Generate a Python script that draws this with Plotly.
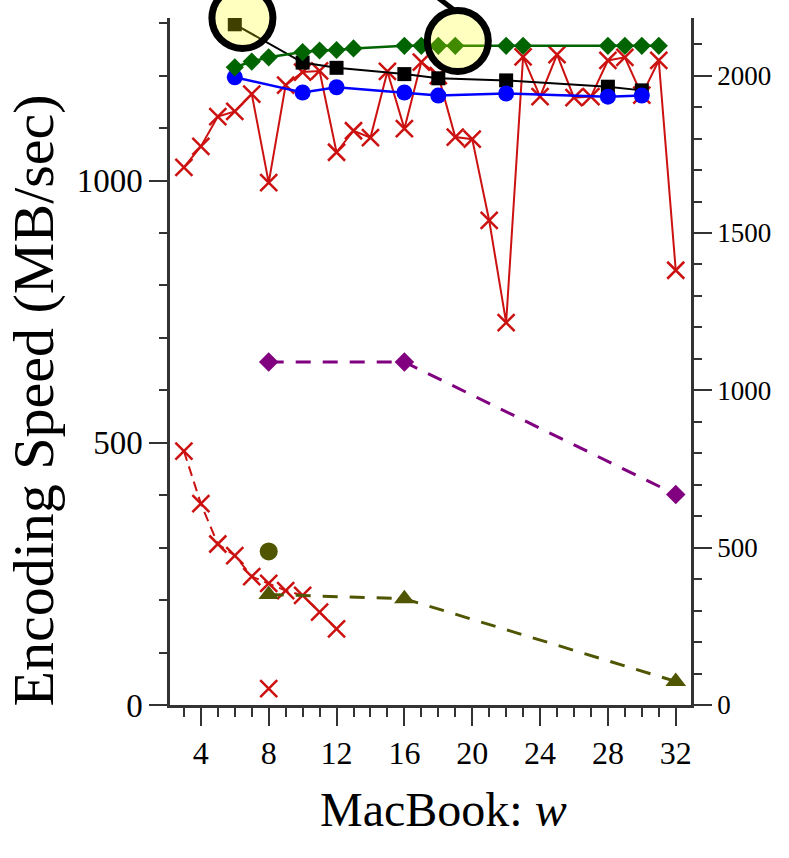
import plotly.graph_objects as go

# ---------------- data ----------------
# top red X series (left axis)
red_top_w = list(range(3, 33))
red_top_v = [1025, 1065, 1122, 1132, 1165, 996, 1182, 1207, 1209, 1054,
             1095, 1082, 1208, 1099, 1226, 1200, 1083, 1079, 924, 729,
             1236, 1160, 1240, 1158, 1160, 1229, 1235, 1163, 1229, 829]

# lower red X series (left axis)
red_low_w = [3, 4, 5, 6, 7, 8, 9, 10, 11, 12]
red_low_v = [484, 384, 307, 285, 245, 232, 218, 209, 177, 145]

# isolated red X
red_pt_w = [8]
red_pt_v = [31]

# black squares (left axis)
black_w = [6, 10, 12, 16, 18, 22, 28, 30]
black_v = [1298, 1225, 1215, 1203, 1195, 1191, 1179, 1172]

# blue circles (left axis)
blue_w = [6, 10, 12, 16, 18, 22, 28, 30]
blue_v = [1197, 1168, 1178, 1168, 1162, 1166, 1160, 1162]

# green diamonds (left axis)
green_w = [6, 7, 8, 10, 11, 12, 13, 16, 17, 18, 19, 22, 23, 28, 29, 30, 31]
green_v = [1216, 1227, 1235, 1245, 1248, 1249, 1252, 1257, 1257, 1257,
           1257, 1257, 1257, 1257, 1257, 1257, 1257]

# purple dashed diamonds (right axis)
purple_w = [8, 16, 32]
purple_v = [1090, 1090, 669]

# olive dashed triangles (right axis)
olive_tri_w = [8, 16, 32]
olive_tri_v = [351, 338, 75]

# olive circle (right axis)
olive_pt_w = [8]
olive_pt_v = [488]

# axis settings
x_range = [2.18, 32.9]
y_max = 1310
x_ticks = [4, 8, 12, 16, 20, 24, 28, 32]

# highlight circle centres (data units, left axis)
highlights = [(6.45, 1310), (19.15, 1266)]

# ---------------- figure ----------------
RED = "#cc1111"
OLIVE = "#4f5500"
fig = go.Figure()

fig.add_trace(go.Scatter(x=red_top_w, y=red_top_v, mode="lines+markers",
                         line=dict(color=RED, width=2),
                         marker=dict(symbol="x-thin", size=17,
                                     line=dict(color=RED, width=2.5))))
fig.add_trace(go.Scatter(x=red_low_w, y=red_low_v, mode="lines+markers",
                         line=dict(color=RED, width=2, dash="10px,6px"),
                         marker=dict(symbol="x-thin", size=17,
                                     line=dict(color=RED, width=2.5))))
fig.add_trace(go.Scatter(x=red_pt_w, y=red_pt_v, mode="markers",
                         marker=dict(symbol="x-thin", size=17,
                                     line=dict(color=RED, width=2.5))))
fig.add_trace(go.Scatter(x=black_w, y=black_v, mode="lines+markers",
                         line=dict(color="black", width=2),
                         marker=dict(symbol="square", size=14, color="black")))
fig.add_trace(go.Scatter(x=blue_w, y=blue_v, mode="lines+markers",
                         line=dict(color="#0000ff", width=2.5),
                         marker=dict(symbol="circle", size=16, color="#0000ff")))
fig.add_trace(go.Scatter(x=green_w, y=green_v, mode="lines+markers",
                         line=dict(color="#006400", width=2.5),
                         marker=dict(symbol="diamond", size=14, color="#006400")))
fig.add_trace(go.Scatter(x=purple_w, y=purple_v, mode="lines+markers", yaxis="y2",
                         line=dict(color="#800080", width=3, dash="15px,12px"),
                         marker=dict(symbol="diamond", size=15, color="#800080")))
fig.add_trace(go.Scatter(x=olive_tri_w, y=olive_tri_v, mode="lines+markers", yaxis="y2",
                         line=dict(color=OLIVE, width=3, dash="15px,12px"),
                         marker=dict(symbol="triangle-up", size=18, color=OLIVE)))
fig.add_trace(go.Scatter(x=olive_pt_w, y=olive_pt_v, mode="markers", yaxis="y2",
                         marker=dict(symbol="circle", size=18, color=OLIVE)))

AX = "#333333"
FONT = "Liberation Serif"
common = dict(showline=True, linecolor=AX, linewidth=2.5, ticks="outside",
              ticklen=18, tickwidth=2, tickcolor=AX, showgrid=False,
              zeroline=False)

fig.update_layout(
    width=789, height=858,
    margin=dict(l=170, r=98, t=18, b=153),
    paper_bgcolor="white", plot_bgcolor="white",
    showlegend=False,
    xaxis=dict(range=x_range, tickvals=x_ticks, **common,
               tickfont=dict(family=FONT, size=32, color="black"),
               minor=dict(tickvals=list(range(3, 33)), ticklen=9, tickwidth=2,
                          tickcolor=AX, ticks="outside", showgrid=False)),
    yaxis=dict(range=[0, y_max], tickvals=[0, 500, 1000], **common,
               tickfont=dict(family=FONT, size=33, color="black"),
               minor=dict(dtick=100, tick0=0, ticklen=8, tickwidth=2,
                          tickcolor=AX, ticks="outside", showgrid=False)),
    yaxis2=dict(range=[0, y_max * 5 / 3], overlaying="y", side="right",
                anchor="x", tickvals=[0, 500, 1000, 1500, 2000], **common,
                tickfont=dict(family=FONT, size=27, color="black"),
                minor=dict(dtick=100, tick0=0, ticklen=8, tickwidth=2,
                           tickcolor=AX, ticks="outside", showgrid=False)),
)

fig.add_annotation(text="Encoding Speed (MB/sec)", textangle=-90,
                   xref="paper", yref="paper", x=-0.262, y=0.444,
                   xanchor="center", yanchor="middle", showarrow=False,
                   font=dict(family=FONT, size=58, color="black"))
fig.add_annotation(text="MacBook: <i>w</i>",
                   xref="paper", yref="paper", x=0.524, y=-0.152,
                   xanchor="center", yanchor="middle", showarrow=False,
                   font=dict(family=FONT, size=48, color="black"))

# highlight circles (annotation, positioned from data units)
def to_paper(w, v):
    return (w - x_range[0]) / (x_range[1] - x_range[0]), v / y_max

R = 30.5
for i, (hw, hv) in enumerate(highlights):
    px, py = to_paper(hw, hv)
    fig.add_shape(type="circle", xref="paper", yref="paper",
                  xsizemode="pixel", ysizemode="pixel",
                  xanchor=px, yanchor=py, x0=-R, x1=R, y0=-R, y1=R,
                  fillcolor="rgba(255,255,0,0.25)",
                  line=dict(color="black", width=7), layer="above")
    if i == 1:
        fig.add_shape(type="line", xref="paper", yref="paper",
                      xsizemode="pixel", ysizemode="pixel",
                      xanchor=px, yanchor=py, x0=-3, y0=R, x1=-24, y1=R + 16,
                      line=dict(color="black", width=5), layer="above")

fig.write_html("out.html", config={"displayModeBar": False},
               post_script="document.body.style.margin='0';")
